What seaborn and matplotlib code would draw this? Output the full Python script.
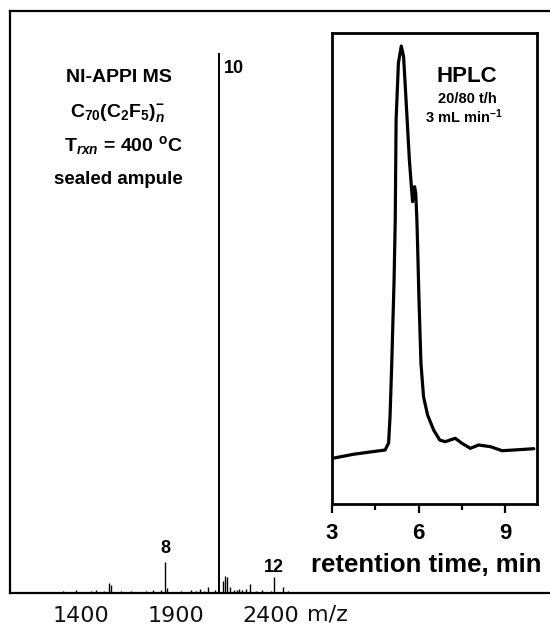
import numpy as np
import pandas as pd
import matplotlib
matplotlib.use("Agg")
import matplotlib.pyplot as plt
import seaborn as sns

# ---------------- data ----------------
# mass spectrum sticks (m/z, relative intensity %)
ms_mz = [1305, 1374, 1453, 1479, 1521, 1547, 1558, 1610, 1663, 1742, 1779,
         1821, 1842, 1852, 1926, 1979, 2005, 2026, 2047, 2068, 2105, 2127,
         2147, 2157, 2168, 2184, 2205, 2221, 2231, 2247, 2268, 2294, 2321,
         2357, 2400, 2420, 2468, 2494]
ms_int = [0.4, 0.5, 0.4, 0.6, 0.4, 1.9, 1.5, 0.4, 0.3, 0.4, 0.5,
          0.6, 5.7, 0.9, 0.4, 0.6, 0.4, 0.8, 0.4, 1.1, 0.6, 100,
          2.2, 3.1, 3.0, 1.1, 0.6, 0.6, 0.8, 0.6, 0.8, 1.7, 0.4,
          0.6, 0.4, 3.0, 1.1, 0.4]
ms_ticks = [1400, 1900, 2400]
peak_labels = ["8", "10", "12"]
peak_label_mz = [1842, 2127, 2420]

# HPLC trace (retention time, min ; signal, a.u.)
hplc_t = [3.02, 3.74, 4.32, 4.84, 4.96, 5.01, 5.07, 5.15, 5.19, 5.22, 5.30,
          5.40, 5.48, 5.57, 5.68, 5.79, 5.86, 5.90, 5.94, 5.96, 6.01, 6.08,
          6.17, 6.31, 6.52, 6.73, 6.92, 7.27, 7.50, 7.79, 8.08, 8.49, 8.89,
          9.30, 9.99]
hplc_s = [45.7, 49.7, 52.0, 54.0, 61.0, 87.3, 141.0, 224.0, 284.0, 384.0, 441.0,
          458.0, 447.3, 401.0, 344.0, 302.3, 317.3, 311.0, 284.0, 264.0, 207.3, 141.0,
          107.3, 89.0, 74.0, 64.0, 62.3, 65.7, 60.7, 55.7, 59.0, 57.3, 53.3,
          54.0, 55.3]
hplc_ticks = [3, 6, 9]
hplc_minor = [4.5, 7.5]

# ---------------- style ----------------
sns.set_theme(style="white")
plt.rcParams["font.family"] = ["Liberation Sans", "DejaVu Sans"]
plt.rcParams["mathtext.fontset"] = "custom"
plt.rcParams["mathtext.rm"] = "Liberation Sans:bold"
plt.rcParams["mathtext.it"] = "Liberation Sans:italic:bold"
plt.rcParams["mathtext.bf"] = "Liberation Sans:bold"
plt.rcParams["mathtext.default"] = "regular"
plt.rcParams["text.color"] = "black"
plt.rcParams["axes.labelcolor"] = "black"
plt.rcParams["xtick.color"] = "black"

W, H = 550, 626
fig = plt.figure(figsize=(W / 100, H / 100), dpi=100)
fig.patch.set_facecolor("white")

def fx(px):
    return px / W

def fy(py):
    return 1 - py / H

# ---------------- main mass spectrum ----------------
ax = fig.add_axes([fx(10), fy(593), fx(550) - fx(10), fy(11) - fy(593)])
ax.set_facecolor("white")
ms_df = pd.DataFrame({"mz": ms_mz, "intensity": ms_int})
ax.vlines(ms_df["mz"], 0, ms_df["intensity"], color="black",
          linewidth=[1.4 if v > 50 else 1.0 for v in ms_int])
ax.set_xlim(1024, 3876)
ax.set_ylim(0, 107.8)
ax.set_yticks([])
ax.set_xticks(ms_ticks)
ax.set_xticklabels([str(t) for t in ms_ticks], fontfamily="DejaVu Sans",
                   fontsize=16, color="#111111")
ax.tick_params(axis="x", length=0, pad=9)
for side in ["left", "top", "bottom"]:
    ax.spines[side].set_color("black")
    ax.spines[side].set_linewidth(1.6)
ax.spines["right"].set_visible(False)
ax.set_xlabel("")
ax.set_ylabel("")

# peak labels
label_offsets = {"8": 2.5, "10": 0, "12": 1.8}
for lab, mz in zip(peak_labels, peak_label_mz):
    inten = ms_int[ms_mz.index(mz)]
    if lab == "10":
        ax.text(mz + 25, 97.2, lab, fontsize=13, fontweight="bold",
                ha="left", va="center")
    else:
        ax.text(mz, inten + label_offsets[lab], lab, fontsize=13,
                fontweight="bold", ha="center", va="center")

fig.text(fx(307), fy(615), "m/z", fontfamily="DejaVu Sans", fontsize=16,
         color="#111111", ha="left", va="center")

# annotation block
fig.text(fx(119), fy(78), "NI-APPI MS", fontsize=14, fontweight="bold",
         ha="center", va="center")
fig.text(fx(118), fy(113), r"C$_{70}$(C$_{2}$F$_{5}$)$_{\mathit{n}}^{-}$",
         fontsize=14, fontweight="bold", ha="center", va="center")
fig.text(fx(123), fy(145), r"T$_{\mathit{rxn}}$ = 400 $^{o}$C", fontsize=14,
         fontweight="bold", ha="center", va="center")
fig.text(fx(118), fy(180), "sealed ampule", fontsize=13.5, fontweight="bold",
         ha="center", va="center")

# ---------------- HPLC inset ----------------
ax2 = fig.add_axes([fx(332), fy(504), fx(537) - fx(332), fy(33) - fy(504)])
ax2.set_facecolor("white")
hplc_df = pd.DataFrame({"t": hplc_t, "signal": hplc_s})
sns.lineplot(data=hplc_df, x="t", y="signal", ax=ax2, color="black",
             linewidth=2.3, sort=False)
ax2.set_xlim(3, 10.1)
ax2.set_ylim(0, 471)
ax2.set_yticks([])
ax2.set_xticks(hplc_ticks)
ax2.set_xticks(hplc_minor, minor=True)
ax2.set_xticklabels([str(t) for t in hplc_ticks], fontsize=16,
                    fontweight="bold")
ax2.tick_params(axis="x", which="major", direction="out", length=6.5,
                width=1.6, color="black", pad=7, bottom=True)
ax2.tick_params(axis="x", which="minor", direction="out", length=4,
                width=1.6, color="black", bottom=True)
for side in ax2.spines.values():
    side.set_color("black")
    side.set_linewidth(2.0)
ax2.set_ylabel("")
ax2.set_xlabel("retention time, min", fontsize=18.5, fontweight="bold",
               labelpad=7, x=0.46)

ax2.text(0.66, 0.9066, "HPLC", transform=ax2.transAxes, fontsize=16,
         fontweight="bold", ha="center", va="center")
ax2.text(0.66, 0.860, "20/80 t/h", transform=ax2.transAxes, fontsize=10.5,
         fontweight="bold", ha="center", va="center")
ax2.text(0.645, 0.822, r"3 mL min$^{-1}$", transform=ax2.transAxes,
         fontsize=10.5, fontweight="bold", ha="center", va="center")

fig.savefig("out.png", dpi=100, facecolor="white")
